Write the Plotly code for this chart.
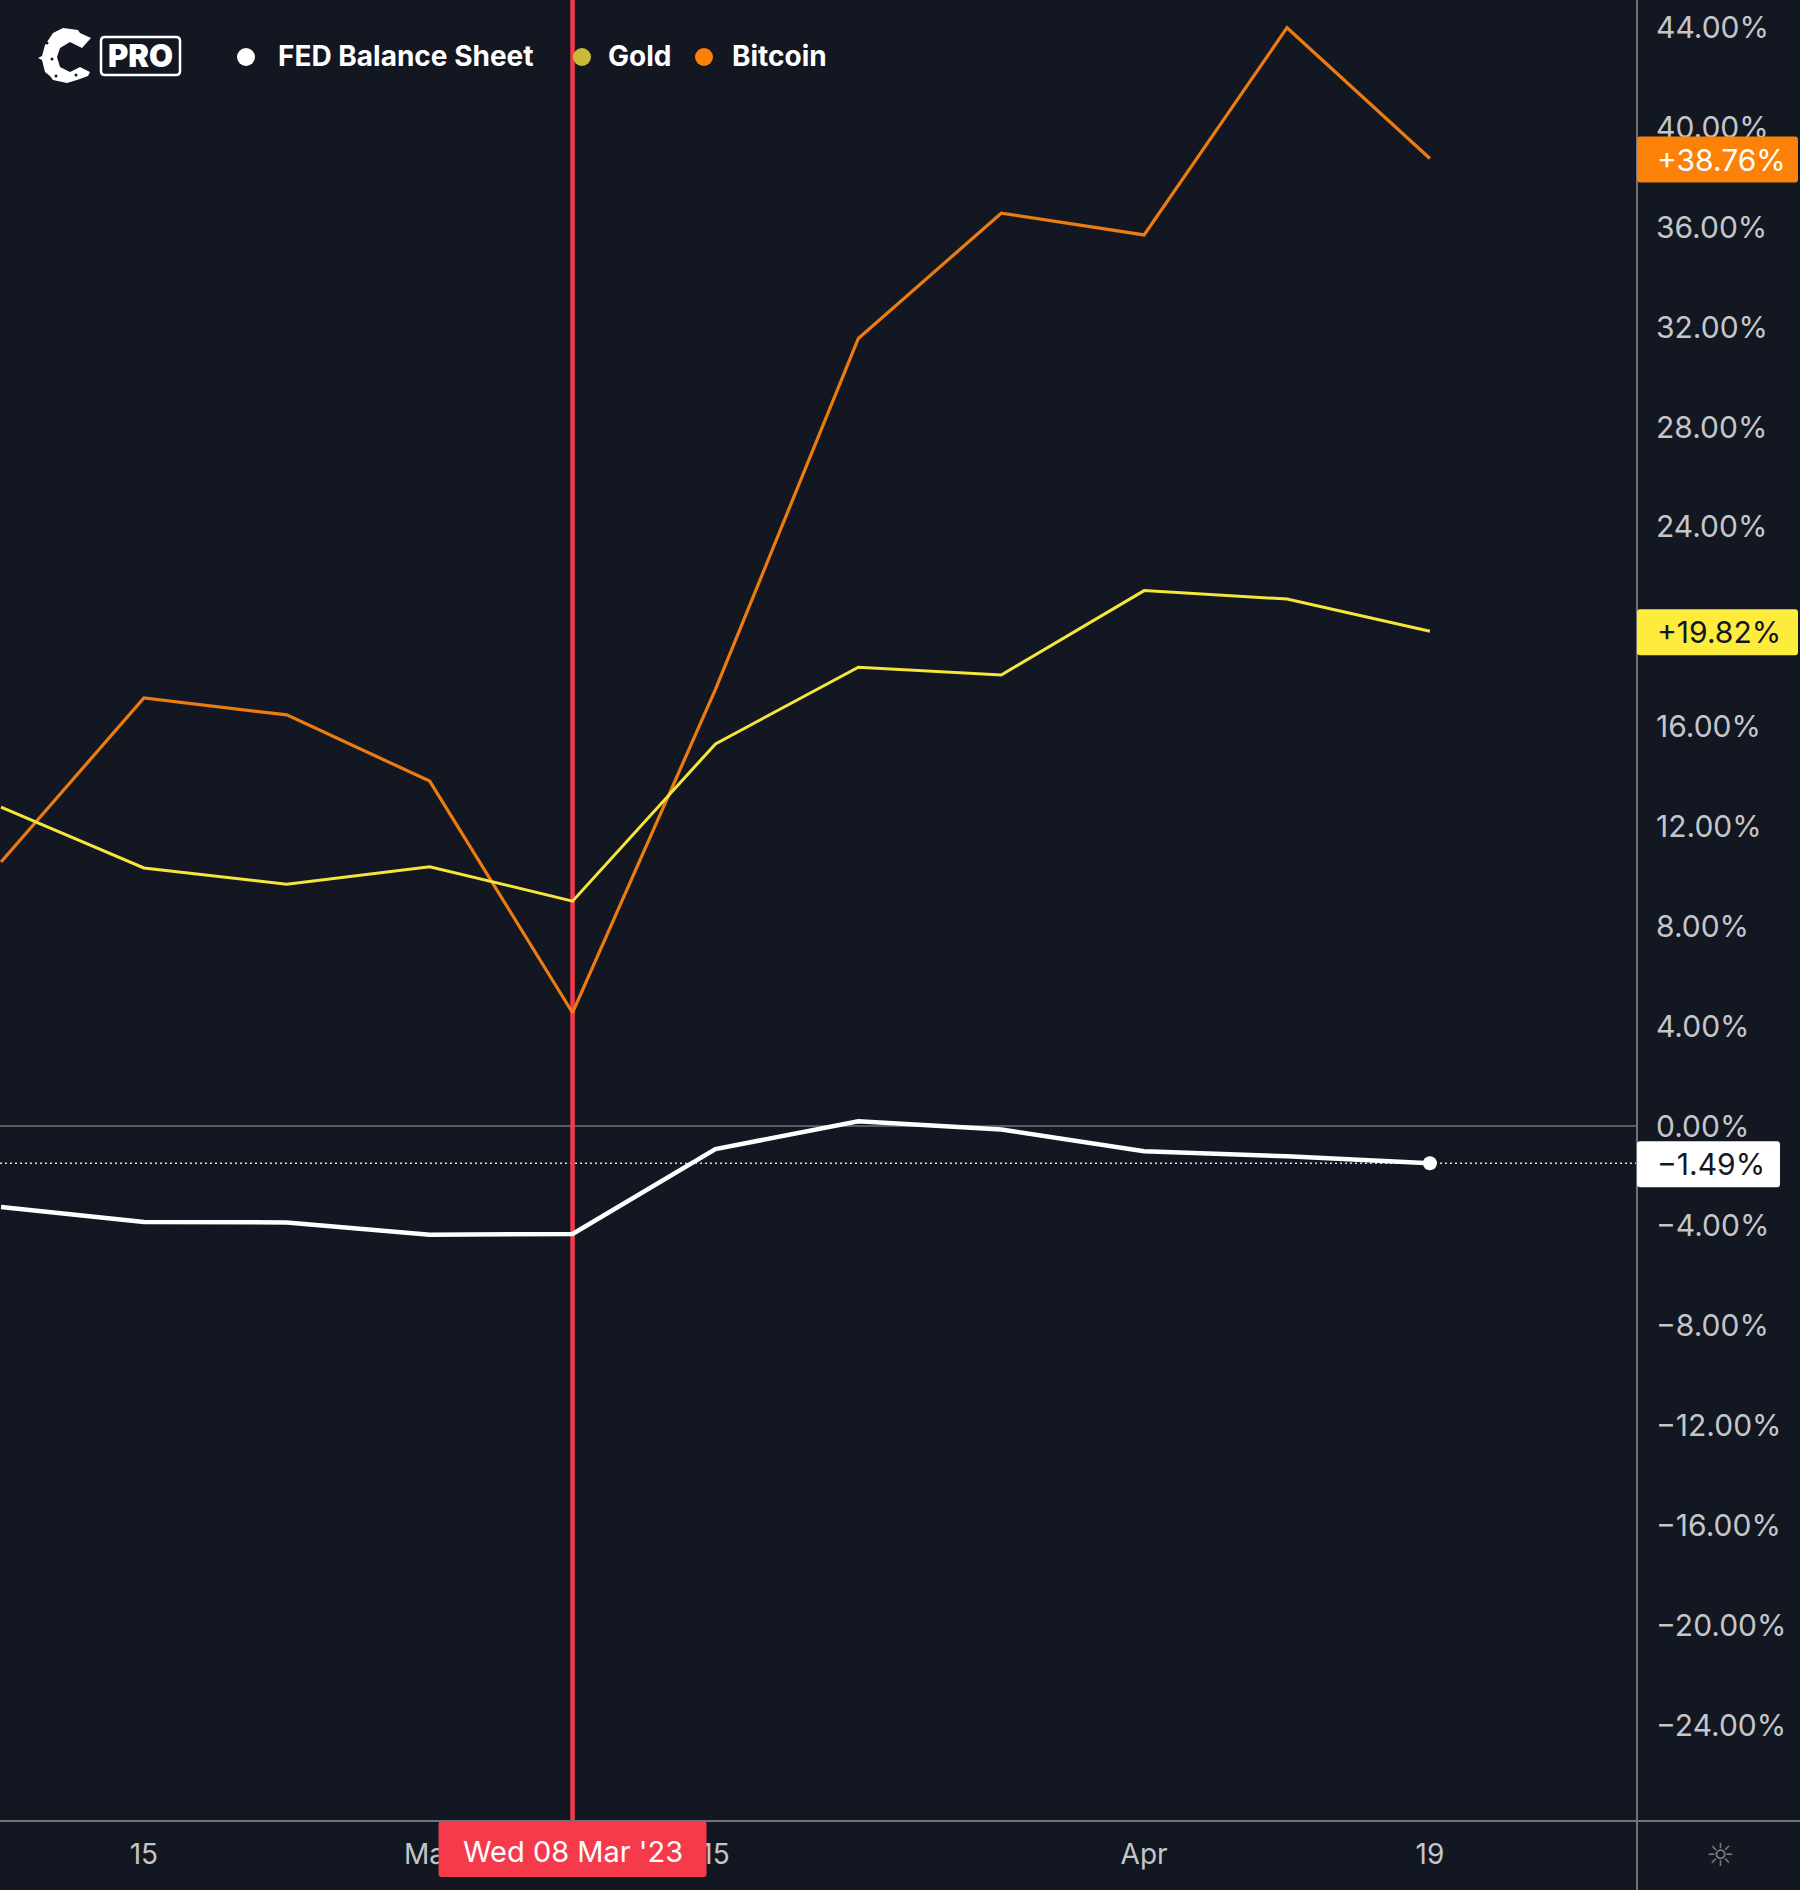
import plotly.graph_objects as go

# weekly closes, % change
dates = ['2023-02-08', '2023-02-15', '2023-02-22', '2023-03-01', '2023-03-08', '2023-03-15',
         '2023-03-22', '2023-03-29', '2023-04-05', '2023-04-12', '2023-04-19']
fed = [-3.24, -3.84, -3.86, -4.35, -4.32, -0.92, 0.19, -0.14, -1.01, -1.21, -1.49]
gold = [12.78, 10.34, 9.69, 10.39, 9.01, 15.31, 18.38, 18.07, 21.45, 21.11, 19.82]
bitcoin = [10.58, 17.15, 16.47, 13.82, 4.54, 17.49, 31.55, 36.57, 35.70, 44.00, 38.76]

y_ticks = [-24, -20, -16, -12, -8, -4, 0, 4, 8, 12, 16, 20, 24, 28, 32, 36, 40, 44]
x_ticks = ['2023-02-15', '2023-03-01', '2023-03-15', '2023-04-05', '2023-04-19']
x_labels = ['15', 'Mar', '15', 'Apr', '19']
cursor_date = '2023-03-08'
cursor_label = "Wed 08 Mar '23"

W, H = 1800, 1890
PLOT_W, PLOT_H = 1637, 1821
BG = '#131722'
FONT = 'Inter'
AXIS = '#6f737b'
TICK_TEXT = '#c4c6c9'
ORANGE = '#ec7c10'
YELLOW = '#f5e63c'
RED = '#f43a4b'


def pct(v):
    s = f'{abs(v):.2f}%'
    return ('\u2212' if v < 0 else '') + s


def signed(v):
    return ('+' if v >= 0 else '\u2212') + f'{abs(v):.2f}%'


def rounded_rect(x0, y0, x1, y1, r):
    # pixel offsets, y goes up
    return (f'M {x0+r} {y0} L {x1-r} {y0} Q {x1} {y0} {x1} {y0-r} L {x1} {y1+r} Q {x1} {y1} {x1-r} {y1} '
            f'L {x0+r} {y1} Q {x0} {y1} {x0} {y1+r} L {x0} {y0-r} Q {x0} {y0} {x0+r} {y0} Z')


fig = go.Figure()
fig.add_trace(go.Scatter(x=dates, y=bitcoin, mode='lines', line=dict(color=ORANGE, width=3.2), name='Bitcoin'))
fig.add_trace(go.Scatter(x=dates, y=gold, mode='lines', line=dict(color=YELLOW, width=3), name='Gold'))
fig.add_trace(go.Scatter(x=dates, y=fed, mode='lines', line=dict(color='white', width=4.5), name='FED Balance Sheet'))
fig.add_trace(go.Scatter(x=dates[-1:], y=fed[-1:], mode='markers', marker=dict(color='white', size=14),
                         showlegend=False))

fig.update_layout(
    width=W, height=H, margin=dict(l=0, r=W - PLOT_W, t=0, b=H - PLOT_H),
    paper_bgcolor=BG, plot_bgcolor=BG, showlegend=False,
    font=dict(family=FONT, color=TICK_TEXT),
)
fig.update_xaxes(type='date', range=['2023-02-07 22:49', '2023-04-29 03:30'], showgrid=False, zeroline=False,
                 tickvals=x_ticks, ticktext=x_labels, ticks='outside', ticklen=8, tickcolor=BG,
                 tickfont=dict(size=28, color=TICK_TEXT, family=FONT))
fig.update_yaxes(side='right', range=[-27.84, 45.11], showgrid=False, zeroline=False,
                 tickvals=y_ticks, ticktext=[pct(v) for v in y_ticks], ticks='outside', ticklen=12, tickcolor=BG,
                 tickfont=dict(size=30, color=TICK_TEXT, family=FONT))

# axis frame runs past the plot area to the page edges
fig.add_shape(type='line', xref='paper', yref='paper', x0=0, x1=W / PLOT_W, y0=0, y1=0, line=dict(color=AXIS, width=2))
fig.add_shape(type='line', xref='paper', yref='paper', x0=1, x1=1, y0=-(H - PLOT_H) / PLOT_H, y1=1,
              line=dict(color=AXIS, width=2))
fig.add_shape(type='line', xref='paper', yref='y', x0=0, x1=1, y0=0, y1=0, line=dict(color=AXIS, width=1.5), layer='below')
fig.add_shape(type='line', xref='paper', yref='y', x0=0, x1=1, y0=fed[-1], y1=fed[-1],
              line=dict(color='#d8d8d8', width=1.5, dash='2px,3px'), layer='below')
fig.add_shape(type='line', xref='x', yref='paper', x0=cursor_date, x1=cursor_date, y0=0, y1=1,
              line=dict(color=RED, width=4.5), layer='below')

# last value tags on the price scale
for val, fill, ink, right in [(bitcoin[-1], '#fb8108', 'white', 161),
                              (gold[-1], '#fdec3c', '#131722', 161),
                              (fed[-1], 'white', '#131722', 143)]:
    fig.add_shape(type='path', xsizemode='pixel', ysizemode='pixel', xref='paper', yref='y',
                  xanchor=1, yanchor=val, path=rounded_rect(0, 22, right, -24, 3),
                  fillcolor=fill, line=dict(width=0))
    txt = signed(val) if val >= 0 else pct(val)
    fig.add_annotation(xref='paper', yref='y', x=(PLOT_W + 18) / PLOT_W, y=val, xanchor='left', yanchor='middle',
                       yshift=-1, text=txt, showarrow=False, font=dict(size=30, color=ink, family=FONT))

# crosshair date tag
fig.add_shape(type='path', xsizemode='pixel', ysizemode='pixel', xref='x', yref='paper',
              xanchor=cursor_date, yanchor=0, path=rounded_rect(-134, 0, 134, -56, 3),
              fillcolor=RED, line=dict(width=0))
fig.add_annotation(xref='x', yref='paper', x=cursor_date, y=-30 / PLOT_H, xanchor='center', yanchor='middle',
                   text=cursor_label, showarrow=False, font=dict(size=29, color='white', family=FONT))

# settings icon
fig.add_annotation(xref='paper', yref='paper', x=1720 / PLOT_W, y=-34 / PLOT_H, xanchor='center', yanchor='middle',
                   text='\u263c', showarrow=False, font=dict(size=32, color='#7c7f86', family='DejaVu Sans'))

# legend row
for label, colour, dot_x, text_x in [('FED Balance Sheet', 'white', 246, 276),
                                     ('Gold', '#c9bb3a', 582, 606),
                                     ('Bitcoin', '#fb8108', 704, 730)]:
    fig.add_shape(type='circle', xsizemode='pixel', ysizemode='pixel', xref='paper', yref='paper',
                  xanchor=dot_x / PLOT_W, yanchor=1 - 57 / PLOT_H, x0=-9, x1=9, y0=-9, y1=9,
                  fillcolor=colour, line=dict(width=0))
    fig.add_annotation(xref='paper', yref='paper', x=text_x / PLOT_W, y=1 - 56 / PLOT_H, xanchor='left',
                       yanchor='middle', text=label, showarrow=False,
                       font=dict(size=28, color='white', family=FONT, weight=700))

# logo: notched C and PRO badge
c_pts = [(63, 28), (78, 30), (80, 33), (91, 38), (82, 48), (70, 42), (60, 48), (57, 57), (60, 67), (70, 72),
         (80, 67), (90, 72), (88, 76), (77, 80), (67, 83), (53, 80), (50, 76), (45, 72), (42, 60), (38, 58),
         (42, 56), (45, 45), (53, 33)]
c_path = 'M ' + ' L '.join(f'{x} {-y}' for x, y in c_pts) + ' Z'
fig.add_shape(type='path', xsizemode='pixel', ysizemode='pixel', xref='paper', yref='paper', xanchor=0, yanchor=1,
              path=c_path, fillcolor='white', line=dict(width=0))
for nx, ny in [(47, 43), (52, 59), (56, 76), (76, 75)]:
    fig.add_shape(type='circle', xsizemode='pixel', ysizemode='pixel', xref='paper', yref='paper', xanchor=0, yanchor=1,
                  x0=nx - 1.5, x1=nx + 1.5, y0=-ny - 1.5, y1=-ny + 1.5, fillcolor=BG, line=dict(width=0))
fig.add_shape(type='path', xsizemode='pixel', ysizemode='pixel', xref='paper', yref='paper', xanchor=0, yanchor=1,
              path=rounded_rect(101, -37, 180, -75, 4), fillcolor=BG, line=dict(color='white', width=2.5))
fig.add_annotation(xref='paper', yref='paper', x=140.5 / PLOT_W, y=1 - 56 / PLOT_H, text='PRO', showarrow=False,
                   xanchor='center', yanchor='middle', font=dict(size=31, color='white', family=FONT, weight=900))

fig.write_html('out.html', config=dict(displayModeBar=False),
               post_script="document.body.style.margin='0';")
